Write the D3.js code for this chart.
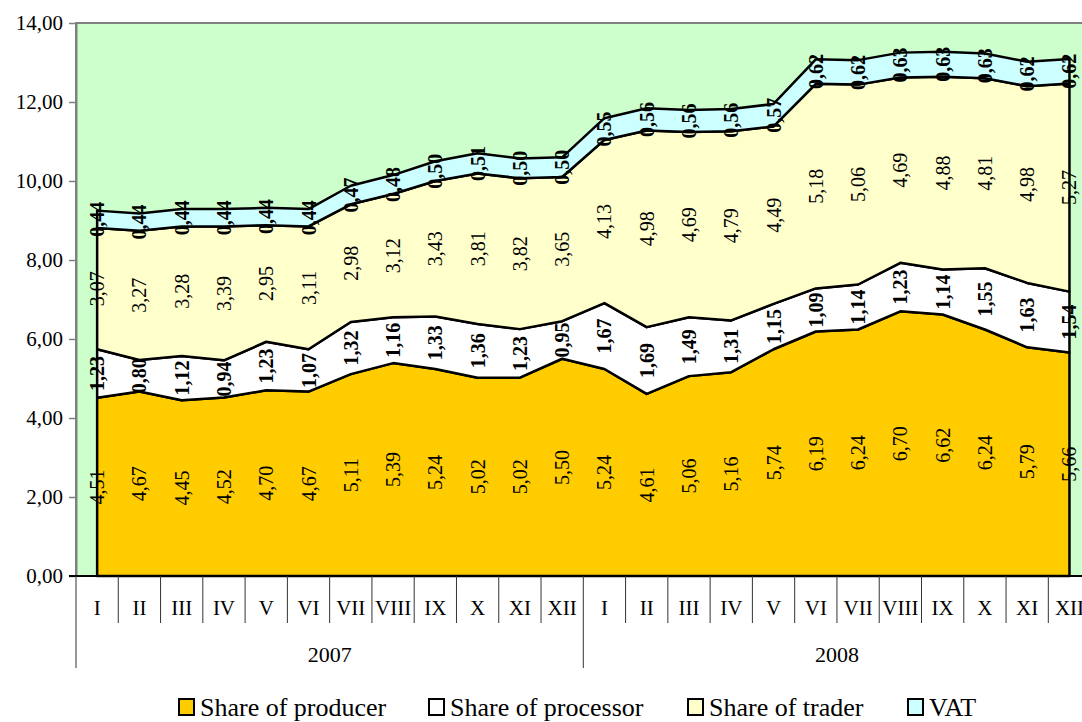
<!DOCTYPE html>
<html>
<head>
<meta charset="utf-8">
<script src="https://cdn.jsdelivr.net/npm/d3@7"></script>
<style>
  html, body { margin: 0; padding: 0; background: #ffffff; }
  svg { display: block; }
  text { font-family: "Liberation Serif", "Times New Roman", serif; fill: #000; }
</style>
</head>
<body>
<svg id="chart" width="1082" height="722"></svg>
<script>
// Monthly price structure, 2007–2008
const years = ["2007", "2008"];
const months = ["I", "II", "III", "IV", "V", "VI", "VII", "VIII", "IX", "X", "XI", "XII"];
const yTicks = [0, 2, 4, 6, 8, 10, 12, 14];

const producer = [4.51, 4.67, 4.45, 4.52, 4.70, 4.67, 5.11, 5.39, 5.24, 5.02, 5.02, 5.50,
                  5.24, 4.61, 5.06, 5.16, 5.74, 6.19, 6.24, 6.70, 6.62, 6.24, 5.79, 5.66];
const processor = [1.23, 0.80, 1.12, 0.94, 1.23, 1.07, 1.32, 1.16, 1.33, 1.36, 1.23, 0.95,
                   1.67, 1.69, 1.49, 1.31, 1.15, 1.09, 1.14, 1.23, 1.14, 1.55, 1.63, 1.54];
const trader = [3.07, 3.27, 3.28, 3.39, 2.95, 3.11, 2.98, 3.12, 3.43, 3.81, 3.82, 3.65,
                4.13, 4.98, 4.69, 4.79, 4.49, 5.18, 5.06, 4.69, 4.88, 4.81, 4.98, 5.27];
const vat = [0.44, 0.44, 0.44, 0.44, 0.44, 0.44, 0.47, 0.48, 0.50, 0.51, 0.50, 0.50,
             0.55, 0.56, 0.56, 0.56, 0.57, 0.62, 0.62, 0.63, 0.63, 0.63, 0.62, 0.62];

const seriesNames = ["Share of producer", "Share of processor", "Share of trader", "VAT"];
const seriesColors = ["#FFCC00", "#FFFFFF", "#FFFFCC", "#CCFFFF"];
const seriesBold = [false, true, false, true];

// Build one row per month for the stack layout
const rows = [];
years.forEach((yr, yi) => months.forEach((m, mi) => {
  const i = yi * months.length + mi;
  rows.push({
    idx: i, year: yr, month: m,
    [seriesNames[0]]: producer[i],
    [seriesNames[1]]: processor[i],
    [seriesNames[2]]: trader[i],
    [seriesNames[3]]: vat[i]
  });
}));

const svg = d3.select("#chart");
const plot = { left: 76, top: 23, right: 1090.6, bottom: 576 };

const x = d3.scaleBand()
  .domain(rows.map(r => r.idx))
  .range([plot.left, plot.right])
  .padding(0);
const cx = i => x(i) + x.bandwidth() / 2;

const y = d3.scaleLinear().domain([0, 14]).range([plot.bottom, plot.top]);

const fmt = v => d3.format(".2f")(v).replace(".", ",");

// Plot area background
svg.append("rect")
  .attr("x", plot.left).attr("y", plot.top)
  .attr("width", plot.right - plot.left).attr("height", plot.bottom - plot.top)
  .attr("fill", "#CCFFCC")
  .attr("stroke", "#808080").attr("stroke-width", 2);

// Stacked areas
const stacked = d3.stack().keys(seriesNames)(rows);
const area = d3.area()
  .x(d => cx(d.data.idx))
  .y0(d => y(d[0]))
  .y1(d => y(d[1]));

svg.append("g")
  .selectAll("path")
  .data(stacked)
  .join("path")
  .attr("d", d => area(d) + "Z")
  .attr("fill", (d, i) => seriesColors[i])
  .attr("stroke", "#000")
  .attr("stroke-width", 2.5)
  .attr("stroke-linejoin", "round");

// Value labels, rotated, centred inside each band
stacked.forEach((layer, si) => {
  svg.append("g")
    .selectAll("text")
    .data(layer)
    .join("text")
    .attr("transform", d => `translate(${cx(d.data.idx)},${y((d[0] + d[1]) / 2)}) rotate(-90)`)
    .attr("text-anchor", "middle")
    .attr("dominant-baseline", "central")
    .style("font-size", "20px")
    .style("font-weight", seriesBold[si] ? "bold" : "normal")
    .text(d => fmt(d[1] - d[0]));
});

// Y axis
const yAxis = svg.append("g")
  .attr("transform", `translate(${plot.left},0)`)
  .call(d3.axisLeft(y).tickValues(yTicks).tickFormat(fmt).tickSize(7).tickSizeOuter(0).tickPadding(6));
yAxis.select(".domain").attr("stroke", "#808080").attr("stroke-width", 2);
yAxis.selectAll(".tick line").attr("stroke", "#808080").attr("stroke-width", 1.5);
yAxis.selectAll(".tick text")
  .style("font-size", "21px")
  .style("font-family", "'Liberation Serif', 'Times New Roman', serif");

// Bottom baseline
svg.append("line")
  .attr("x1", plot.left - 7).attr("x2", plot.right)
  .attr("y1", plot.bottom).attr("y2", plot.bottom)
  .attr("stroke", "#000").attr("stroke-width", 2);

// Two-level category axis: month cells and year groups
const xAxisG = svg.append("g");
const monthLineBottom = 623, yearLineBottom = 668;

xAxisG.selectAll("line.month")
  .data(rows.filter(r => r.idx % 12 !== 0))
  .join("line")
  .attr("x1", d => x(d.idx)).attr("x2", d => x(d.idx))
  .attr("y1", plot.bottom).attr("y2", monthLineBottom)
  .attr("stroke", "#333").attr("stroke-width", 1);

xAxisG.selectAll("line.year")
  .data(years.map((yr, yi) => yi * 12).concat([rows.length]))
  .join("line")
  .attr("x1", d => d < rows.length ? x(d) : plot.right)
  .attr("x2", d => d < rows.length ? x(d) : plot.right)
  .attr("y1", plot.bottom).attr("y2", yearLineBottom)
  .attr("stroke", "#333").attr("stroke-width", 1);

xAxisG.selectAll("text.month")
  .data(rows)
  .join("text")
  .attr("x", d => cx(d.idx))
  .attr("y", 615)
  .attr("text-anchor", "middle")
  .style("font-size", "21px")
  .text(d => d.month);

xAxisG.selectAll("text.year")
  .data(years)
  .join("text")
  .attr("x", (d, yi) => (x(yi * 12) + (yi * 12 + 12 < rows.length ? x(yi * 12 + 12) : plot.right)) / 2)
  .attr("y", 662)
  .attr("text-anchor", "middle")
  .style("font-size", "22px")
  .text(d => d);

// Legend
const legendX = [178, 428, 687, 907];
const legend = svg.append("g");
seriesNames.forEach((name, i) => {
  const g = legend.append("g").attr("transform", `translate(${legendX[i]},0)`);
  g.append("rect")
    .attr("x", 1).attr("y", 699)
    .attr("width", 15).attr("height", 16)
    .attr("fill", seriesColors[i])
    .attr("stroke", "#000").attr("stroke-width", 2);
  g.append("text")
    .attr("x", 22).attr("y", 716)
    .style("font-size", "26px")
    .text(name);
});
</script>
</body>
</html>
